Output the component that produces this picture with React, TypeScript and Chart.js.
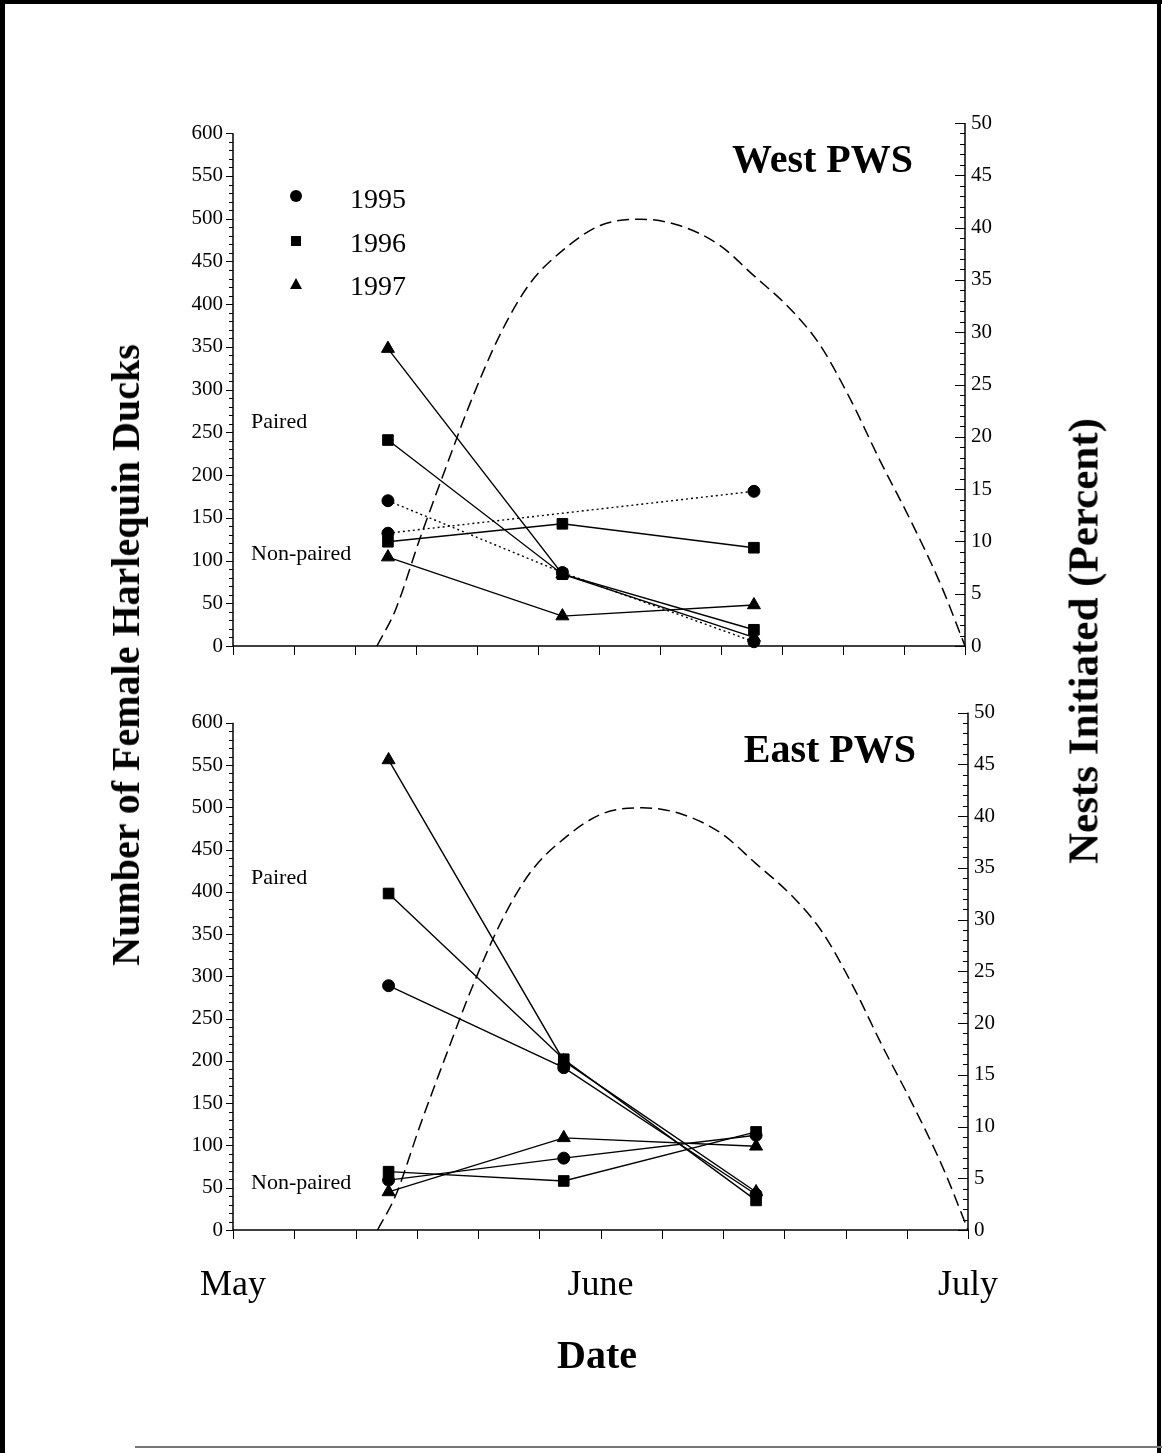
import React, { useEffect, useRef } from 'react';
import { Chart, registerables } from 'chart.js';

Chart.register(...registerables);

const SERIF = '"Liberation Serif", "Times New Roman", serif';

// x positions of the survey dates (days after 1 May)
const SURVEY_DAYS = [12.7, 27, 42.7];

// axis ticks
const X_TICKS = [0, 5, 10, 15, 20, 25, 30, 35, 40, 45, 50, 55, 60];
const X_LABEL_VALUES = [0, 30, 60];
const X_LABELS = ['May', 'June', 'July'];
const LEFT_TICKS = [0, 50, 100, 150, 200, 250, 300, 350, 400, 450, 500, 550, 600];
const LEFT_MINOR_STEP = 10;
const RIGHT_TICKS = [0, 5, 10, 15, 20, 25, 30, 35, 40, 45, 50];
const RIGHT_MINOR_STEP = 1;
const LEFT_MAX = 612;
const RIGHT_MAX = 50;

const YEARS = ['1995', '1996', '1997'];

// West PWS
const WEST_PAIRED_1995 = [170, 86, 5];
const WEST_PAIRED_1996 = [241, 84, 19];
const WEST_PAIRED_1997 = [348, 84, 10];
const WEST_NONPAIRED_1995 = [132, null, 181];
const WEST_NONPAIRED_1996 = [122, 143, 115];
const WEST_NONPAIRED_1997 = [104, 35, 48];

// East PWS
const EAST_PAIRED_1995 = [289, 192, 42];
const EAST_PAIRED_1996 = [398, 202, 35];
const EAST_PAIRED_1997 = [556, 200, 45];
const EAST_NONPAIRED_1995 = [59, 85, 112];
const EAST_NONPAIRED_1996 = [69, 58, 116];
const EAST_NONPAIRED_1997 = [45, 109, 99];

// Nests initiated (percent) curve
const NEST_DAYS = [11.8, 13.3, 15.3, 17.4, 19.4, 21.9, 24.3, 27.0, 30.1, 33.4, 36.6, 39.9, 42.6, 45.7, 48.1, 50.6, 53.0, 55.5, 58.0, 60];
const NEST_PCT = [0, 3.4, 10.2, 16.9, 23.1, 29.8, 34.6, 37.8, 40.2, 40.8, 40.2, 38.3, 35.5, 32.2, 28.8, 23.6, 17.8, 12.1, 5.9, 0];

const POINT_STYLES = ['circle', 'rect', 'triangle'];
const POINT_RADII = [6, 7.5, 7.5];

type Vals = (number | null)[];

function buildDatasets(paired: Vals[], nonPaired: Vals[], dotted1995: boolean) {
  const ds: any[] = [];
  ds.push({
    label: 'Nests',
    data: NEST_DAYS.map((d, i) => ({ x: d, y: NEST_PCT[i] })),
    yAxisID: 'yR',
    borderColor: '#000',
    borderWidth: 1.5,
    borderDash: [12, 6],
    pointRadius: 0,
    cubicInterpolationMode: 'monotone',
    fill: false,
    clip: false,
  });
  [paired, nonPaired].forEach((group) =>
    group.forEach((vals, k) => {
      ds.push({
        label: YEARS[k],
        data: SURVEY_DAYS.map((d, i) => ({ x: d, y: vals[i] })),
        yAxisID: 'yL',
        borderColor: '#000',
        backgroundColor: '#000',
        borderWidth: 1.4,
        borderDash: dotted1995 && k === 0 ? [2, 3] : [],
        pointStyle: POINT_STYLES[k],
        pointRadius: POINT_RADII[k],
        pointBackgroundColor: '#000',
        pointBorderColor: '#000',
        pointBorderWidth: 1,
        spanGaps: true,
        tension: 0,
        fill: false,
        clip: false,
      });
    })
  );
  return ds;
}

const axesPlugin = {
  id: 'customAxes',
  afterDraw(chart: any) {
    const { ctx, chartArea } = chart;
    const x = chart.scales.x;
    const yL = chart.scales.yL;
    const yR = chart.scales.yR;
    ctx.save();
    ctx.strokeStyle = '#000';
    ctx.lineCap = 'butt';
    // left axis
    ctx.lineWidth = 1.5;
    ctx.beginPath();
    ctx.moveTo(chartArea.left, yL.getPixelForValue(0) + 1);
    ctx.lineTo(chartArea.left, yL.getPixelForValue(LEFT_TICKS[LEFT_TICKS.length - 1]));
    ctx.stroke();
    ctx.lineWidth = 1;
    for (let v = 0; v <= LEFT_TICKS[LEFT_TICKS.length - 1]; v += LEFT_MINOR_STEP) {
      const major = LEFT_TICKS.includes(v);
      const py = Math.round(yL.getPixelForValue(v)) + 0.5;
      ctx.beginPath();
      ctx.moveTo(chartArea.left - (major ? 7 : 4), py);
      ctx.lineTo(chartArea.left, py);
      ctx.stroke();
    }
    // right axis
    ctx.lineWidth = 1.5;
    ctx.beginPath();
    ctx.moveTo(chartArea.right, yR.getPixelForValue(0) + 1);
    ctx.lineTo(chartArea.right, yR.getPixelForValue(RIGHT_TICKS[RIGHT_TICKS.length - 1]));
    ctx.stroke();
    ctx.lineWidth = 1;
    for (let v = 0; v <= RIGHT_TICKS[RIGHT_TICKS.length - 1]; v += RIGHT_MINOR_STEP) {
      const major = RIGHT_TICKS.includes(v);
      const py = Math.round(yR.getPixelForValue(v)) + 0.5;
      ctx.beginPath();
      ctx.moveTo(chartArea.right - (major ? 10 : 5), py);
      ctx.lineTo(chartArea.right, py);
      ctx.stroke();
    }
    // x axis
    ctx.lineWidth = 1.5;
    const by = chartArea.bottom;
    ctx.beginPath();
    ctx.moveTo(chartArea.left, by);
    ctx.lineTo(chartArea.right, by);
    ctx.stroke();
    ctx.lineWidth = 1;
    X_TICKS.forEach((v) => {
      const px = Math.round(x.getPixelForValue(v)) + 0.5;
      ctx.beginPath();
      ctx.moveTo(px, by);
      ctx.lineTo(px, by + 9);
      ctx.stroke();
    });
    ctx.restore();
  },
};

type PanelCfg = {
  width: number;
  height: number;
  padTop: number;
  leftWidth: number;
  rightWidth: number;
  xHeight: number;
  showX: boolean;
  xPad: number;
  paired: Vals[];
  nonPaired: Vals[];
  dotted1995: boolean;
};

function Panel({ cfg, style }: { cfg: PanelCfg; style: React.CSSProperties }) {
  const ref = useRef<HTMLCanvasElement | null>(null);
  useEffect(() => {
    if (!ref.current) return;
    const chart = new Chart(ref.current, {
      type: 'line',
      data: { datasets: buildDatasets(cfg.paired, cfg.nonPaired, cfg.dotted1995) },
      plugins: [axesPlugin],
      options: {
        animation: false,
        responsive: false,
        events: [],
        layout: { padding: { top: cfg.padTop, left: 0, right: 0, bottom: 0 } },
        plugins: { legend: { display: false }, tooltip: { enabled: false } },
        scales: {
          x: {
            type: 'linear',
            min: 0,
            max: 60,
            grid: { display: false, drawTicks: false },
            border: { display: false },
            afterBuildTicks: (s: any) => {
              s.ticks = X_LABEL_VALUES.map((v) => ({ value: v }));
            },
            afterFit: (s: any) => {
              s.height = cfg.xHeight;
            },
            ticks: {
              display: cfg.showX,
              padding: cfg.xPad,
              color: '#000',
              autoSkip: false,
              maxRotation: 0,
              font: { family: SERIF, size: 36 },
              callback: (v: any) => X_LABELS[X_LABEL_VALUES.indexOf(v)],
            },
          },
          yL: {
            type: 'linear',
            position: 'left',
            min: 0,
            max: LEFT_MAX,
            grid: { display: false, drawTicks: false },
            border: { display: false },
            afterBuildTicks: (s: any) => {
              s.ticks = LEFT_TICKS.map((v) => ({ value: v }));
            },
            afterFit: (s: any) => {
              s.width = cfg.leftWidth;
            },
            ticks: {
              padding: 10,
              color: '#000',
              autoSkip: false,
              font: { family: SERIF, size: 21 },
              callback: (v: any) => String(v),
            },
          },
          yR: {
            type: 'linear',
            position: 'right',
            min: 0,
            max: RIGHT_MAX,
            grid: { display: false, drawTicks: false },
            border: { display: false },
            afterBuildTicks: (s: any) => {
              s.ticks = RIGHT_TICKS.map((v) => ({ value: v }));
            },
            afterFit: (s: any) => {
              s.width = cfg.rightWidth;
            },
            ticks: {
              padding: 6,
              color: '#000',
              autoSkip: false,
              font: { family: SERIF, size: 21 },
              callback: (v: any) => String(v),
            },
          },
        },
      } as any,
    });
    return () => chart.destroy();
  }, []);
  return <canvas ref={ref} width={cfg.width} height={cfg.height} style={{ position: 'absolute', display: 'block', ...style }} />;
}

const abs = (o: React.CSSProperties): React.CSSProperties => ({ position: 'absolute', whiteSpace: 'nowrap', color: '#000', fontFamily: SERIF, lineHeight: 1, ...o });

function Marker({ kind, x, y }: { kind: number; x: number; y: number }) {
  if (kind === 0) return <div style={{ position: 'absolute', left: x - 6, top: y - 6, width: 12, height: 12, borderRadius: 6, background: '#000' }} />;
  if (kind === 1) return <div style={{ position: 'absolute', left: x - 5, top: y - 5, width: 10, height: 10, background: '#000' }} />;
  return <div style={{ position: 'absolute', left: x - 6, top: y - 6, width: 0, height: 0, borderLeft: '6px solid transparent', borderRight: '6px solid transparent', borderBottom: '11px solid #000' }} />;
}

export default function App() {
  const top: PanelCfg = {
    width: 1162,
    height: 690,
    padTop: 123,
    leftWidth: 233,
    rightWidth: 1162 - 965,
    xHeight: 690 - 646,
    showX: false,
    xPad: 0,
    paired: [WEST_PAIRED_1995, WEST_PAIRED_1996, WEST_PAIRED_1997],
    nonPaired: [WEST_NONPAIRED_1995, WEST_NONPAIRED_1996, WEST_NONPAIRED_1997],
    dotted1995: true,
  };
  const bottom: PanelCfg = {
    width: 1162,
    height: 763,
    padTop: 712 - 690,
    leftWidth: 233,
    rightWidth: 1162 - 968,
    xHeight: 763 - (1230 - 690),
    showX: true,
    xPad: 34,
    paired: [EAST_PAIRED_1995, EAST_PAIRED_1996, EAST_PAIRED_1997],
    nonPaired: [EAST_NONPAIRED_1995, EAST_NONPAIRED_1996, EAST_NONPAIRED_1997],
    dotted1995: false,
  };
  return (
    <div style={{ position: 'absolute', left: 0, top: 0, width: 1162, height: 1453, background: '#fff', overflow: 'hidden' }}>
      <div style={{ position: 'absolute', left: 0, top: 0, width: 5, height: 1453, background: '#000' }} />
      <div style={{ position: 'absolute', left: 0, top: 0, width: 1162, height: 4, background: '#000' }} />
      <div style={{ position: 'absolute', left: 1157, top: 0, width: 4, height: 1453, background: '#000' }} />
      <div style={{ position: 'absolute', left: 135, top: 1446, width: 1027, height: 2, background: '#777' }} />

      <Panel cfg={top} style={{ left: 0, top: 0 }} />
      <Panel cfg={bottom} style={{ left: 0, top: 690 }} />

      <div style={abs({ left: 126, top: 655, transform: 'translate(-50%, -50%) rotate(-90deg)', fontWeight: 'bold', fontSize: 40 })}>Number of Female Harlequin Ducks</div>
      <div style={abs({ left: 1083, top: 641, transform: 'translate(-50%, -50%) rotate(-90deg)', fontWeight: 'bold', fontSize: 43 })}>Nests Initiated (Percent)</div>
      <div style={abs({ left: 597, top: 1355, transform: 'translate(-50%, -50%)', fontWeight: 'bold', fontSize: 40 })}>Date</div>

      <div style={abs({ left: 913, top: 159, transform: 'translate(-100%, -50%)', fontWeight: 'bold', fontSize: 40 })}>West PWS</div>
      <div style={abs({ left: 916, top: 749, transform: 'translate(-100%, -50%)', fontWeight: 'bold', fontSize: 40 })}>East PWS</div>

      {YEARS.map((yr, k) => (
        <React.Fragment key={yr}>
          <Marker kind={k} x={296} y={[196, 241, 284][k]} />
          <div style={abs({ left: 350, top: [199, 243, 286][k], transform: 'translateY(-50%)', fontSize: 28 })}>{yr}</div>
        </React.Fragment>
      ))}

      <div style={abs({ left: 251, top: 421, transform: 'translateY(-50%)', fontSize: 22 })}>Paired</div>
      <div style={abs({ left: 251, top: 553, transform: 'translateY(-50%)', fontSize: 22 })}>Non-paired</div>
      <div style={abs({ left: 251, top: 877, transform: 'translateY(-50%)', fontSize: 22 })}>Paired</div>
      <div style={abs({ left: 251, top: 1182, transform: 'translateY(-50%)', fontSize: 22 })}>Non-paired</div>
    </div>
  );
}
